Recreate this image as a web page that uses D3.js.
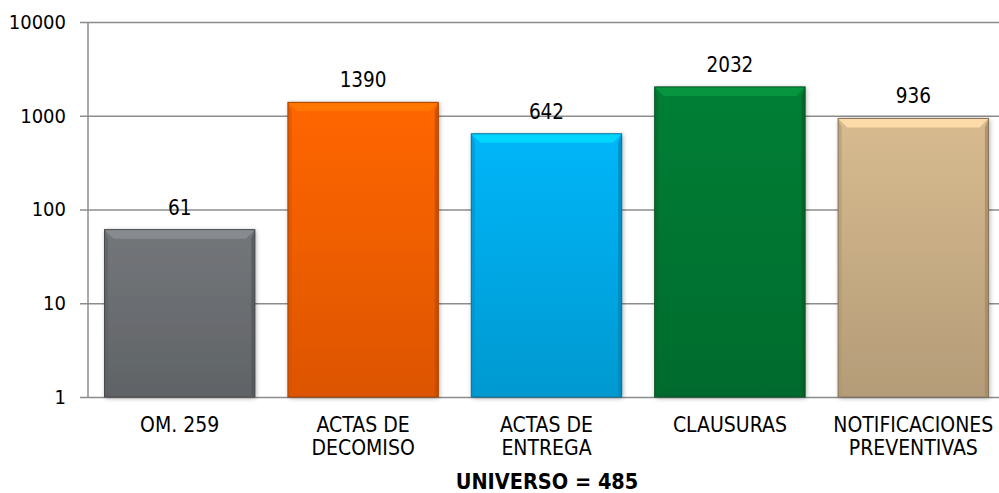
<!DOCTYPE html>
<html>
<head>
<meta charset="utf-8">
<script src="https://cdn.jsdelivr.net/npm/d3@7"></script>
<style>
  html, body { margin: 0; padding: 0; background: #fff; overflow: hidden; }
  svg { display: block; }
  svg text { font-family: "DejaVu Sans Condensed", "DejaVu Sans", sans-serif; font-stretch: condensed; fill: #000; }
</style>
</head>
<body>
<svg></svg>
<script>
const categories = [["OM. 259"], ["ACTAS DE", "DECOMISO"], ["ACTAS DE", "ENTREGA"], ["CLAUSURAS"], ["NOTIFICACIONES", "PREVENTIVAS"]];
const values = [61, 1390, 642, 2032, 936];
const colors = ["#6f7276", "#ff6200", "#00b0f0", "#067b34", "#d0b48a"];
const yTicks = [1, 10, 100, 1000, 10000];
const title = "UNIVERSO = 485";

const width = 999, height = 493;
const svg = d3.select('svg').attr('width', width).attr('height', height);
const margin = { top: 22, right: -6, bottom: 96, left: 88 };
const innerWidth = width - margin.left - margin.right;
const innerHeight = height - margin.top - margin.bottom;
const g = svg.append('g').attr('transform', `translate(${margin.left},${margin.top})`);

const keys = categories.map(c => c.join(' '));
const xScale = d3.scaleBand().domain(keys).range([0, innerWidth]).paddingInner(0.18).paddingOuter(0.09);
const yScale = d3.scaleLog().domain([1, 10000]).range([innerHeight, 0]);

// gradients per bar
const defs = svg.append('defs');
colors.forEach((c, i) => {
  const grad = defs.append('linearGradient').attr('id', 'grad' + i)
    .attr('x1', 0).attr('y1', 0).attr('x2', 0).attr('y2', 1);
  grad.append('stop').attr('offset', '0%').attr('stop-color', d3.color(c).brighter(0.1));
  grad.append('stop').attr('offset', '100%').attr('stop-color', d3.color(c).darker(0.4));
});
const shadow = defs.append('filter').attr('id', 'shadow').attr('x', '-10%').attr('y', '-10%').attr('width', '130%').attr('height', '130%');
shadow.append('feGaussianBlur').attr('in', 'SourceAlpha').attr('stdDeviation', 2.5);
shadow.append('feOffset').attr('dx', 1).attr('dy', 1).attr('result', 'b');
shadow.append('feComponentTransfer').append('feFuncA').attr('type', 'linear').attr('slope', 0.35);
const m = shadow.append('feMerge');
m.append('feMergeNode');
m.append('feMergeNode').attr('in', 'SourceGraphic');

// gridlines + y axis
const yAxis = d3.axisLeft(yScale).tickValues(yTicks).tickFormat(d3.format('d'))
  .tickSize(-innerWidth - 8).tickPadding(14).tickSizeOuter(0);
const gy = g.append('g').call(yAxis);
gy.select('.domain').remove();
gy.selectAll('.tick line').attr('stroke', '#8c8c8c').attr('stroke-width', 1.5).attr('x1', -8).attr('x2', innerWidth);
gy.selectAll('.tick text').attr('font-size', 20).attr('x', -22);
g.append('line').attr('x1', 0).attr('x2', 0).attr('y1', 0).attr('y2', innerHeight)
  .attr('stroke', '#8c8c8c').attr('stroke-width', 1.5);

// bars
const bw = xScale.bandwidth();
const bars = g.selectAll('.bar').data(values).enter().append('g').attr('class', 'bar')
  .attr('transform', (d, i) => `translate(${xScale(keys[i])},${yScale(d)})`);
bars.append('rect')
  .attr('width', bw).attr('height', d => innerHeight - yScale(d))
  .attr('fill', (d, i) => `url(#grad${i})`)
  .attr('filter', 'url(#shadow)');
const bev = 9;
// top bevel
bars.append('path')
  .attr('d', `M0,0 L${bw},0 L${bw - bev},${bev} L${bev},${bev} Z`)
  .attr('fill', (d, i) => d3.color(colors[i]).brighter(0.55));
// side bevels
bars.append('path')
  .attr('d', d => { const h = innerHeight - yScale(d); return `M0,0 L${bev * 0.4},${bev} L${bev * 0.4},${h - 2} L0,${h} Z`; })
  .attr('fill', (d, i) => d3.color(colors[i]).darker(0.5)).attr('opacity', 0.6);
bars.append('path')
  .attr('d', d => { const h = innerHeight - yScale(d); return `M${bw},0 L${bw - bev * 0.4},${bev} L${bw - bev * 0.4},${h - 2} L${bw},${h} Z`; })
  .attr('fill', (d, i) => d3.color(colors[i]).darker(0.8)).attr('opacity', 0.7);
bars.append('rect')
  .attr('width', bw).attr('height', d => innerHeight - yScale(d))
  .attr('fill', 'none').attr('stroke', (d, i) => d3.color(colors[i]).darker(1.2)).attr('stroke-width', 1);

// value labels
g.selectAll('.val').data(values).enter().append('text')
  .attr('x', (d, i) => xScale(keys[i]) + bw / 2)
  .attr('y', d => yScale(d) - 15)
  .attr('text-anchor', 'middle').attr('font-size', 20.5)
  .text(d => d);

// category labels
const cl = g.selectAll('.cat').data(categories).enter().append('text')
  .attr('text-anchor', 'middle').attr('font-size', 21)
  .attr('transform', (d, i) => `translate(${xScale(keys[i]) + bw / 2},${innerHeight + 35})`);
cl.selectAll('tspan').data(d => d).enter().append('tspan')
  .attr('x', 0).attr('dy', (d, j) => j === 0 ? 0 : 23).text(d => d);

// axis title
svg.append('text').attr('x', 547).attr('y', 489).attr('text-anchor', 'middle')
  .attr('font-size', 21.5).attr('font-weight', 'bold')
  .text(title);
</script>
</body>
</html>
